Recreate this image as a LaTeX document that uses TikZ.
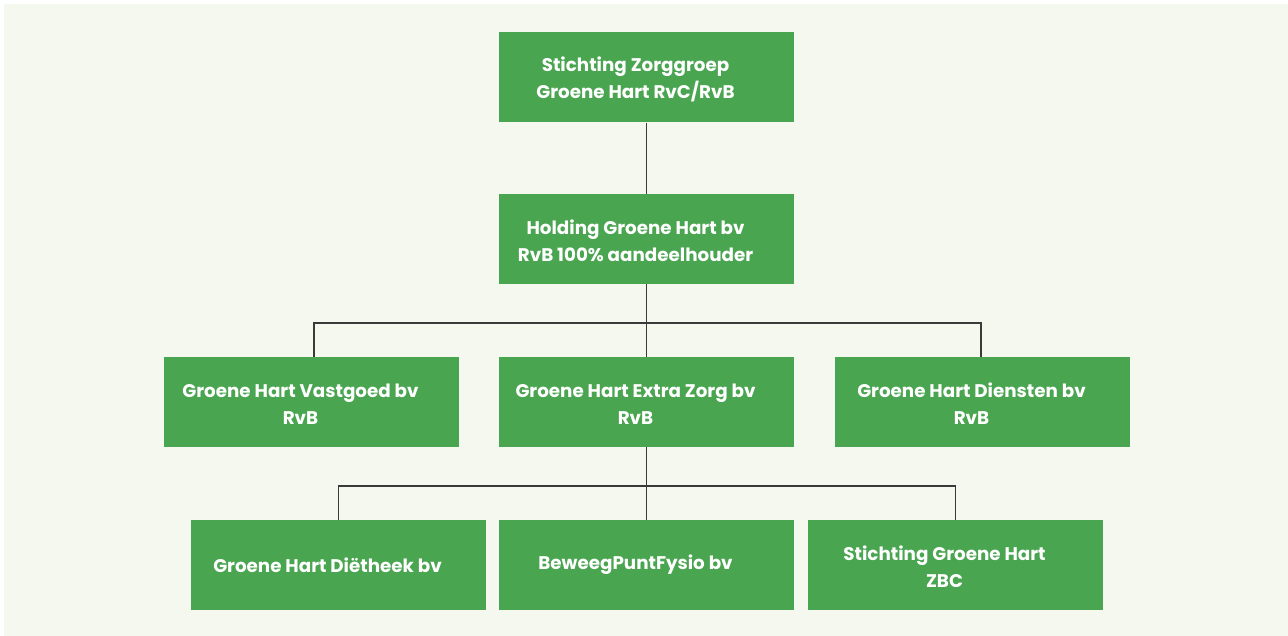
\documentclass[tikz,border=0pt]{standalone}
\usepackage{fontspec}
\setmainfont{Poppins}
\usetikzlibrary{calc}
\definecolor{boxgreen}{HTML}{49A550}
\definecolor{paper}{HTML}{F5F8EE}
\definecolor{linegray}{HTML}{3A3A3A}

\begin{document}
\begin{tikzpicture}[x=1pt, y=-1pt,
    orgbox/.style={fill=boxgreen, minimum width=295pt, minimum height=90pt, inner sep=0pt},
    orgtext/.style={text=white, font=\fontsize{18.3}{27}\selectfont\bfseries, align=center, inner sep=0pt},
    wire/.style={draw=linegray, line width=1.5pt}]
        % --- 1. Parameters ---
        \def\rowA{77.5}
        \def\rowB{239}
        \def\rowC{402}
        \def\rowD{565}
        \def\txtShift{-11pt}

        % --- 2. Canvas ---
        \useasboundingbox (0,0) rectangle (1288,636);
        \fill[white] (0,0) rectangle (1288,636);
        \fill[paper] (4,4) rectangle (1288,636);

        % --- 3. Boxes ---
        \node[orgbox] (top)   at (646.5,\rowA) {};
        \node[orgbox] (hold)  at (646.5,\rowB) {};
        \node[orgbox] (vast)  at (311.5,\rowC) {};
        \node[orgbox] (extra) at (646.5,\rowC) {};
        \node[orgbox] (dien)  at (982.5,\rowC) {};
        \node[orgbox] (diet)  at (338.5,\rowD) {};
        \node[orgbox] (bewg)  at (646.5,\rowD) {};
        \node[orgbox] (zbc)   at (955.5,\rowD) {};

        % --- 4. Labels (set a little left of centre) ---
        \node[orgtext] (top-t)   at ([xshift=\txtShift,yshift=-2pt]top.center)   {Stichting Zorggroep\\Groene Hart RvC/RvB};
        \node[orgtext] (hold-t)  at ([xshift=\txtShift,yshift=-2pt]hold.center)  {Holding Groene Hart bv\\RvB 100\% aandeelhouder};
        \node[orgtext] (vast-t)  at ([xshift=\txtShift,yshift=-2pt]vast.center)  {Groene Hart Vastgoed bv\\RvB};
        \node[orgtext] (extra-t) at ([xshift=\txtShift,yshift=-2pt]extra.center) {Groene Hart Extra Zorg bv\\RvB};
        \node[orgtext] (dien-t)  at ([xshift=\txtShift,yshift=-2pt]dien.center)  {Groene Hart Diensten bv\\RvB};
        \node[orgtext] (diet-t)  at ([xshift=\txtShift]diet.center)  {Groene Hart Diëtheek bv};
        \node[orgtext] (bewg-t)  at ([xshift=\txtShift]bewg.center)  {BeweegPuntFysio bv};
        \node[orgtext] (zbc-t)   at ([xshift=\txtShift,yshift=-2pt]zbc.center)   {Stichting Groene Hart\\ZBC};

        % --- 5. Connectors ---
        \coordinate (busB) at (0,323);
        \coordinate (busC) at (0,486);
        \draw[wire] (top.south) -- (hold.north);
        \draw[wire] (hold.south) -- (extra.north);
        \draw[wire] ([xshift=2.5pt]vast.north) -- ([xshift=2.5pt]vast.north |- busB) -- ([xshift=-1.5pt]dien.north |- busB) -- ([xshift=-1.5pt]dien.north);
        \draw[wire] (extra.south) -- (bewg.north);
        \draw[wire] (diet.north) -- (diet.north |- busC) -- (zbc.north |- busC) -- (zbc.north);
\end{tikzpicture}
\end{document}
